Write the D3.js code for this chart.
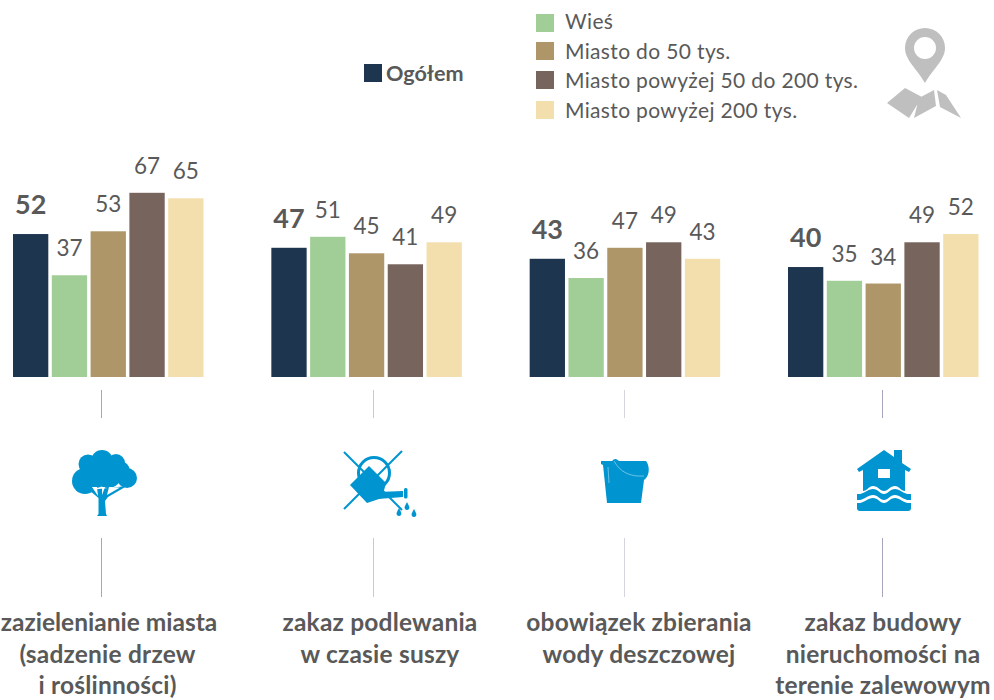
<!DOCTYPE html>
<html><head><meta charset="utf-8">
<script src="https://cdnjs.cloudflare.com/ajax/libs/d3/7.8.5/d3.min.js"></script>
<style>html,body{margin:0;padding:0;background:#fff}svg{display:block}text{font-family:Lato,"Open Sans",sans-serif}</style>
</head><body><svg id="c" width="994" height="700"></svg>
<script>
const categories = ["zazielenianie miasta", "zakaz podlewania", "obowiązek zbierania", "zakaz budowy"];
const categoryLines = [["zazielenianie miasta","(sadzenie drzew","i roślinności)"],["zakaz podlewania","w czasie suszy"],["obowiązek zbierania","wody deszczowej"],["zakaz budowy","nieruchomości na","terenie zalewowym"]];
const seriesNames = ["Ogółem","Wieś","Miasto do 50 tys.","Miasto powyżej 50 do 200 tys.","Miasto powyżej 200 tys."];
const seriesColors = ["#1e3550","#a1cd96","#ae9669","#77645c","#f3dfad"];
const ogolem = [52,47,43,40];
const wies = [37,51,36,35];
const miasto50 = [53,45,47,34];
const miasto200 = [67,41,49,49];
const miastoPow200 = [65,49,43,52];
const seriesValues = [ogolem,wies,miasto50,miasto200,miastoPow200];

const svg = d3.select("#c");
const x0 = d3.scaleBand().domain(categories).range([13,978.5]).paddingInner(0.2626);
const x1 = d3.scaleBand().domain(seriesNames).range([0,x0.bandwidth()]).paddingInner(0.09);
const y = d3.scaleLinear().domain([0,67]).range([377,192.8]);
const TXT="#595959";

categories.forEach((c,ci)=>{
  const g=svg.append("g").attr("transform",`translate(${x0(c)},0)`);
  seriesNames.forEach((s,si)=>{
    const v=seriesValues[si][ci];
    g.append("rect").attr("x",x1(s)).attr("y",y(v)).attr("width",x1.bandwidth()).attr("height",y(0)-y(v)).attr("fill",seriesColors[si]);
    g.append("text").attr("x",x1(s)+x1.bandwidth()/2).attr("y",y(v)-(si==0?20:19)).attr("text-anchor","middle")
      .attr("font-size",si==0?27:22.5).attr("font-weight",si==0?700:400).attr("fill",TXT).text(v);
  });
});

// connector lines
const lineX=[101,373,624,882];
const lineCol=["#a9a5bd","#c9c9d6","#d5d5e0","#a9a5bd"];
lineX.forEach((lx,i)=>{
  [[390,418],[538,597]].forEach(([a,b])=>svg.append("line").attr("x1",lx+.5).attr("x2",lx+.5).attr("y1",a).attr("y2",b).attr("stroke",lineCol[i]).attr("stroke-width",1));
});

// category labels
const labelX=[107.5,380,639,883];
const labelBase=[631,663,694];
categoryLines.forEach((ls,i)=>{
  ls.forEach((t,j)=>{
    const first=(i===0&&j===0);
    svg.append("text").attr("x",first?109:labelX[i]).attr("y",labelBase[j]).attr("text-anchor","middle").attr("font-size",24.5).attr("letter-spacing",first?0:0.2).attr("font-weight",700).attr("fill",TXT).text(t);
  });
});

// legend
svg.append("rect").attr("x",364).attr("y",64).attr("width",18).attr("height",18).attr("fill",seriesColors[0]);
svg.append("text").attr("x",386).attr("y",81).attr("font-size",21.6).attr("font-weight",700).attr("fill",TXT).text(seriesNames[0]);
const legendY=[14,42,71,101];
const legendBase=[29,59,88,118];
seriesNames.slice(1).forEach((s,i)=>{
  svg.append("rect").attr("x",536).attr("y",legendY[i]).attr("width",18).attr("height",18).attr("fill",seriesColors[i+1]);
  svg.append("text").attr("x",565).attr("y",legendBase[i]).attr("font-size",21).attr("letter-spacing",0.35).attr("fill",TXT).text(s);
});

// map pin icon
const ICON="#0095d0",GR="#bfbfbf";
svg.append("path").attr("fill-rule","evenodd").attr("fill",GR)
 .attr("d","M925,83 C917,69 905,60 905,48 A20,20 0 0 1 945,48 C945,60 933,69 925,83Z M925,37 A11,11 0 1 0 925,59 A11,11 0 1 0 925,37Z");
svg.append("path").attr("fill",GR).attr("d","M887,103 L905,88 L922,97 L909,118Z M914,118 L919,98 L934,90 L936,106Z M937,90 L946,95 L961,118 L940,107Z");

const icon=()=>svg.append("g").attr("fill",ICON);

// tree
const t=icon();
[[88,464,9.5],[102,461,11],[116,463,9],[85,481,13],[127,478,10],[108,474,14],[95,474,14],[120,471,10]].forEach(d=>t.append("circle").attr("cx",d[0]).attr("cy",d[1]).attr("r",d[2]));
t.append("path").attr("d","M89,490 L127,486 L108,497 L105,501 L106,514 L107,516 L97,516 L98.5,514 L98.5,498Z");
t.append("path").attr("fill","#fff").attr("d","M92,487 L97,487 L98,496Z M102,487 L105,487 L102,495Z M109,487 L120,487.5 L107,495Z");

// watering can
const w=icon();
w.append("path").attr("d","M369,466 L386,483 L382,498 L367,503 L350,485Z");
w.append("path").attr("d","M378,492 L403,491 L403,497 L378,499Z");
w.append("rect").attr("x",404).attr("y",488).attr("width",3.5).attr("height",10.5).attr("rx",1.5);
w.append("circle").attr("cx",374).attr("cy",473).attr("r",15.5).attr("fill","none").attr("stroke",ICON).attr("stroke-width",3);
w.append("path").attr("fill","none").attr("stroke",ICON).attr("stroke-width",2).attr("d","M344,452 L402,510 M402,451 L344,509");
[[407,507],[399,513],[414,514]].forEach(d=>w.append("path").attr("d",`M${d[0]},${d[1]-5} C${d[0]+2},${d[1]-1} ${d[0]+3},${d[1]} ${d[0]+2},${d[1]+2} A2.6,2.6 0 0 1 ${d[0]-2},${d[1]+2} C${d[0]-3},${d[1]} ${d[0]-2},${d[1]-1} ${d[0]},${d[1]-5}Z`));

// bucket
const b=icon();
b.append("path").attr("d","M601,461 L612,461 Q615,457 619,461 L646,461 C650,466 650,476 644,480 L641,503 L607,503 L603,465 L601,464Z");
b.append("path").attr("fill","none").attr("stroke","#fff").attr("stroke-width",.7).attr("opacity",.6).attr("d","M614,461 C620,472 630,477 644,476 M608,467 L609,483");

// house
const h=icon();
h.append("path").attr("d","M884,450 L894,457 L894,450 L902,450 L902,463 L911,469 L909,472 L905,470 L905,491 C901,491 899,486 895,486 C890,486 888,491 884,491 C880,491 878,486 873,486 C869,486 867,491 863,491 L863,470 L859,472 L857,469Z");
h.append("path").attr("d","M857,494 C863,495 868,489 873,489 C878,489 880,494 884,494 C888,494 890,489 895,489 C900,489 904,495 911,494 L911,500 C904,501 900,495 895,495 C890,495 888,500 884,500 C880,500 878,495 873,495 C868,495 863,501 857,500Z");
h.append("path").attr("d","M857,503 C863,504 868,498 873,498 C878,498 880,503 884,503 C888,503 890,498 895,498 C900,498 904,504 911,503 L911,508 Q911,511 908,511 L860,511 Q857,511 857,508Z");
h.append("rect").attr("x",878).attr("y",469).attr("width",12).attr("height",9).attr("fill","#fff");
</script></body></html>
